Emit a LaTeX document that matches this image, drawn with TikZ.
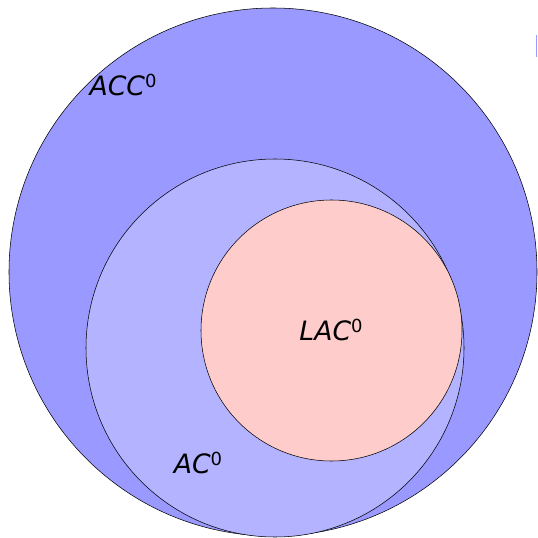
\documentclass[tikz,border=0pt]{standalone}
\usepackage{fontspec}
\setmainfont{DejaVu Sans}
\usepackage{tikz}
\usetikzlibrary{positioning}
\definecolor{accblue}{HTML}{9999FF}
\definecolor{acblue}{HTML}{B3B3FF}
\definecolor{lacpink}{HTML}{FFCCCC}
\newcommand{\cls}[1]{{\itshape #1}\raisebox{5.6pt}{\fontsize{13.5}{13.5}\selectfont 0}}

\begin{document}
\begin{tikzpicture}[x=0.75pt,y=-0.75pt,
    setdisc/.style={circle,draw=black,line width=0.4pt,inner sep=0pt},
    setlabel/.style={font=\fontsize{20}{23}\selectfont,inner sep=0pt}]
  \useasboundingbox (0,0) rectangle (537,538);
  % nested classes, outermost first
  \foreach \name/\x/\y/\r/\fill in {acc/273/272/264/accblue,ac/275/348/189/acblue,lac/331.5/330.5/130.5/lacpink}
    \node[setdisc,fill=\fill,minimum size=2*\r*0.75pt] (\name) at (\x,\y) {};
  \node[setlabel] (acclab) at (123,85) {\cls{ACC}};
  \node[setlabel] (laclab) at (331,330) {\cls{LAC}};
  \node[setlabel] (aclab) at (198,463) {\cls{AC}};
  % clipped legend mark at the right edge
  \fill[accblue] (535.5,35) rectangle (537,57);
\end{tikzpicture}
\end{document}
